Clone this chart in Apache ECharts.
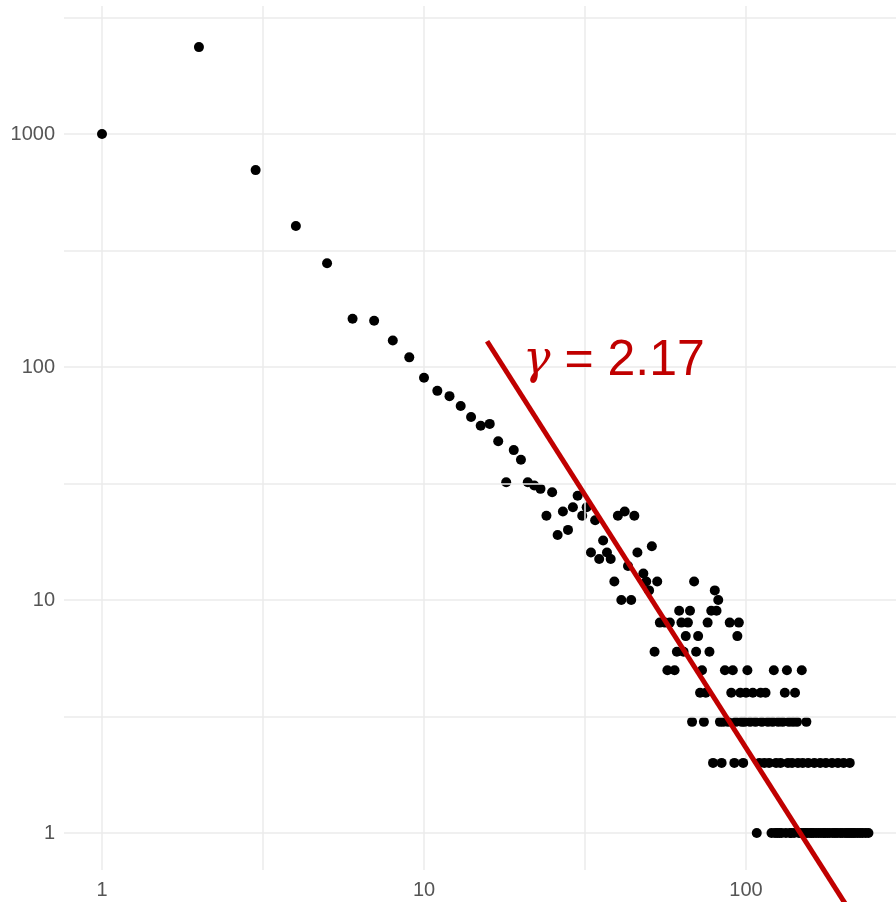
<!DOCTYPE html>
<html>
<head>
<meta charset="utf-8">
<script src="https://cdn.jsdelivr.net/npm/echarts@6/dist/echarts.min.js"></script>
<style>
  html, body { margin: 0; padding: 0; background: #ffffff; }
  #chart { width: 896px; height: 902px; }
</style>
</head>
<body>
<div id="chart"></div>
<script>
// Degree distribution: node degree k and number of nodes with that degree
const degree = [
  1, 2, 3, 4, 5, 6, 7, 8, 9, 10,
  11, 12, 13, 14, 15, 16, 17, 18, 19, 20,
  21, 22, 23, 24, 25, 26, 27, 28, 29, 30,
  31, 32, 33, 34, 35, 36, 37, 38, 39, 40,
  41, 42, 43, 44, 45, 46, 48, 49, 50, 51,
  52, 53, 54, 56, 57, 58, 60, 61, 62, 63,
  64, 65, 66, 67, 68, 69, 70, 71, 72, 73,
  74, 75, 76, 77, 78, 79, 80, 81, 82, 83,
  84, 85, 86, 88, 89, 90, 91, 92, 93, 94,
  95, 96, 97, 98, 99, 100, 101, 103, 105, 107,
  108, 110, 111, 112, 114, 115, 117, 118, 120, 121,
  122, 123, 124, 125, 126, 127, 128, 129, 130, 132,
  133, 134, 135, 136, 137, 138, 139, 140, 141, 142,
  144, 145, 146, 148, 149, 150, 151, 153, 154, 155,
  156, 158, 160, 162, 163, 165, 168, 170, 171, 174,
  176, 177, 179, 182, 185, 186, 189, 192, 193, 196,
  199, 201, 203, 206, 209, 210, 212, 215, 218, 222,
  226, 230, 235, 240
];
const count = [
  1000, 2360, 700, 403, 279, 161, 158, 130, 110, 90,
  79, 75, 68, 61, 56, 57, 48, 32, 44, 40,
  32, 31, 30, 23, 29, 19, 24, 20, 25, 28,
  23, 25, 16, 22, 15, 18, 16, 15, 12, 23,
  10, 24, 14, 10, 23, 16, 13, 12, 11, 17,
  6, 12, 8, 8, 5, 8, 5, 6, 9, 8,
  6, 7, 8, 9, 3, 12, 6, 7, 4, 5,
  3, 4, 8, 6, 9, 2, 11, 9, 10, 3,
  2, 3, 5, 3, 8, 4, 5, 2, 3, 7,
  8, 4, 3, 2, 3, 4, 5, 3, 4, 3,
  1, 2, 4, 3, 2, 4, 3, 2, 1, 3,
  5, 1, 2, 1, 3, 1, 2, 1, 3, 4,
  1, 5, 2, 3, 1, 1, 2, 3, 1, 4,
  3, 2, 1, 1, 5, 2, 1, 1, 3, 1,
  2, 1, 1, 1, 2, 1, 1, 2, 1, 1,
  1, 2, 1, 1, 2, 1, 1, 1, 2, 1,
  1, 2, 1, 1, 1, 2, 1, 1, 1, 1,
  1, 1, 1, 1
];

// Axis ticks (decades) and half-decade minor grid lines
const xTicks = [1, 10, 100];
const yTicks = [1, 10, 100, 1000];
const xMinorGrid = [3.1623, 31.623];
const yMinorGrid = [3.1623, 31.623, 316.23, 3162.3];

// Power-law fit P(k) ~ k^-gamma
const fitGamma = 2.17;
const fitStartK = 15.7;
const fitStartCount = 129;
const fitEndK = 205;
const fitLabelAnchor = [20.3, 106];

const points = degree.map((k, i) => [k, count[i]]);
const fitLine = [
  [fitStartK, fitStartCount],
  [fitEndK, fitStartCount * Math.pow(fitEndK / fitStartK, -fitGamma)]
];

const gridColor = '#ebebeb';
const labelFont = '"Liberation Sans", Arial, sans-serif';

function decadeLabel(ticks) {
  return function (v) {
    for (const t of ticks) {
      if (Math.abs(v - t) / t < 1e-6) return String(t);
    }
    return '';
  };
}

const chart = echarts.init(document.getElementById('chart'), null, { renderer: 'canvas' });

chart.setOption({
  animation: false,
  backgroundColor: '#ffffff',
  grid: { left: 64, top: 6, right: 0, height: 864, containLabel: false },
  xAxis: {
    type: 'log',
    logBase: 10,
    min: 0.762,
    max: 292.3,
    axisLine: { show: false },
    axisTick: { show: false },
    axisLabel: {
      show: true,
      margin: 10,
      color: '#555555',
      fontSize: 20,
      fontFamily: labelFont,
      showMinLabel: false,
      showMaxLabel: false,
      formatter: decadeLabel(xTicks)
    },
    splitLine: {
      show: true,
      showMinLine: false,
      showMaxLine: false,
      lineStyle: { color: gridColor, width: 1.5 }
    }
  },
  yAxis: {
    type: 'log',
    logBase: 10,
    min: 0.694,
    max: 3543,
    axisLine: { show: false },
    axisTick: { show: false },
    axisLabel: {
      show: true,
      margin: 9,
      color: '#555555',
      fontSize: 20,
      fontFamily: labelFont,
      showMinLabel: false,
      showMaxLabel: false,
      formatter: decadeLabel(yTicks)
    },
    splitLine: {
      show: true,
      showMinLine: false,
      showMaxLine: false,
      lineStyle: { color: gridColor, width: 1.5 }
    }
  },
  series: [
    {
      // minor grid lines at half decades
      type: 'line',
      data: [],
      z: 0,
      silent: true,
      markLine: {
        silent: true,
        symbol: 'none',
        animation: false,
        label: { show: false },
        lineStyle: { color: gridColor, width: 1.5, type: 'solid' },
        emphasis: { disabled: true },
        data: xMinorGrid.map(v => ({ xAxis: v })).concat(yMinorGrid.map(v => ({ yAxis: v })))
      }
    },
    {
      type: 'scatter',
      data: points,
      symbol: 'circle',
      symbolSize: 10,
      itemStyle: { color: '#000000', opacity: 1 },
      z: 3
    },
    {
      type: 'line',
      data: fitLine,
      clip: false,
      showSymbol: false,
      symbol: 'none',
      lineStyle: { color: '#c00000', width: 5, cap: 'butt' },
      z: 5
    }
  ]
});

const anchor = chart.convertToPixel({ gridIndex: 0 }, fitLabelAnchor);
chart.setOption({
  graphic: [
    {
      type: 'text',
      x: anchor[0],
      y: anchor[1],
      z: 10,
      style: {
        text: '{g|γ} = 2.17',
        fill: '#c00000',
        font: '50px "Liberation Sans", Arial, sans-serif',
        verticalAlign: 'middle',
        align: 'left',
        rich: {
          g: {
            fontStyle: 'italic',
            fontSize: 46,
            fontFamily: '"DejaVu Serif", serif',
            fill: '#c00000'
          }
        }
      }
    }
  ]
});
</script>
</body>
</html>
